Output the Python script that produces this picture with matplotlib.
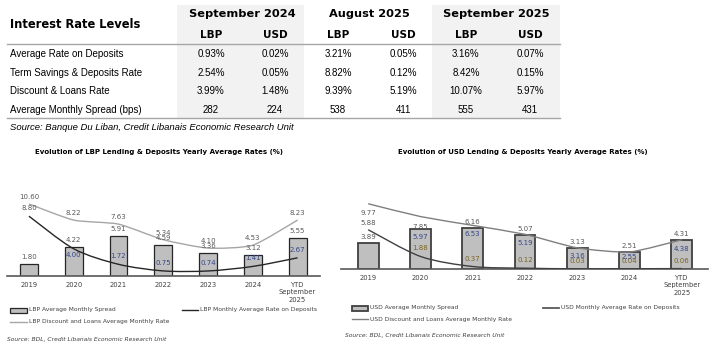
import numpy as np
import matplotlib
matplotlib.use("Agg")
import matplotlib.pyplot as plt
from matplotlib.path import Path
from matplotlib.patches import PathPatch, Rectangle
from matplotlib.lines import Line2D

# ---- table data ----
row_labels = ["Average Rate on Deposits", "Term Savings & Deposits Rate",
              "Discount & Loans Rate", "Average Monthly Spread (bps)"]
periods = ["September 2024", "August 2025", "September 2025"]
currencies = ["LBP", "USD"]
table_values = [
    ["0.93%", "0.02%", "3.21%", "0.05%", "3.16%", "0.07%"],
    ["2.54%", "0.05%", "8.82%", "0.12%", "8.42%", "0.15%"],
    ["3.99%", "1.48%", "9.39%", "5.19%", "10.07%", "5.97%"],
    ["282", "224", "538", "411", "555", "431"],
]

# ---- chart data ----
years = ["2019", "2020", "2021", "2022", "2023", "2024", "YTD\nSeptember\n2025"]
lbp_spread = [1.80, 4.22, 5.91, 4.59, 3.36, 3.12, 5.55]
lbp_deposits = [8.80, 4.00, 1.72, 0.75, 0.74, 1.41, 2.67]
lbp_loans = [10.60, 8.22, 7.63, 5.34, 4.10, 4.53, 8.23]
usd_spread = [3.89, 5.97, 6.16, 5.07, 3.13, 2.51, 4.31]
usd_deposits = [5.88, 1.88, 0.37, 0.12, 0.03, 0.04, 0.06]
usd_loans = [9.77, 7.85, 6.53, 5.19, 3.16, 2.55, 4.38]

W, H = 717, 353
fig = plt.figure(figsize=(W / 100, H / 100), dpi=100)

# overlay axes in pixel units for the table, legends and notes
ov = fig.add_axes([0, 0, 1, 1])
ov.set_xlim(0, W)
ov.set_ylim(H, 0)
ov.axis("off")

grey_fill = "#F2F2F2"
rule = "#A6A6A6"
ov.add_patch(Rectangle((177, 5), 127, 113, color=grey_fill, lw=0, zorder=0))
ov.add_patch(Rectangle((432, 5), 128, 113, color=grey_fill, lw=0, zorder=0))
ov.plot([7, 560], [44, 44], color=rule, lw=1)
ov.plot([7, 560], [118, 118], color=rule, lw=1)

ov.text(10, 24, "Interest Rate Levels", fontsize=8.3, fontweight="bold",
        family="DejaVu Sans", va="center", ha="left")
group_x = [242, 369, 496]
for p, gx in zip(periods, group_x):
    ov.text(gx, 14, p, fontsize=8.2, fontweight="bold", family="DejaVu Sans",
            ha="center", va="center")
col_x = [211, 275, 338, 403, 466, 530]
for i, cx in enumerate(col_x):
    ov.text(cx, 35, currencies[i % 2], fontsize=7.5, fontweight="bold",
            family="DejaVu Sans", ha="center", va="center")

row_y = [54, 73, 91, 110]
for lab, ry, vals in zip(row_labels, row_y, table_values):
    ov.text(10, ry, lab, fontsize=7, family="Liberation Sans", va="center")
    for cx, v in zip(col_x, vals):
        ov.text(cx, ry, v, fontsize=7, family="Liberation Sans",
                ha="center", va="center")

ov.text(10, 128, "Source: Banque Du Liban, Credit Libanais Economic Research Unit",
        fontsize=6.8, style="italic", family="Liberation Sans", va="center")


def smooth(xs, ys, k=8):
    pts = np.column_stack([xs, ys]).astype(float)
    n = len(pts)
    verts = [pts[0]]
    codes = [Path.MOVETO]
    for i in range(n - 1):
        p0 = pts[i - 1] if i > 0 else pts[i]
        p1, p2 = pts[i], pts[i + 1]
        p3 = pts[i + 2] if i + 2 < n else pts[i + 1]
        verts += [p1 + (p2 - p0) / k, p2 - (p3 - p1) / k, p2]
        codes += [Path.CURVE4] * 3
    return Path(verts, codes)


def label(ax, xs, vals, offs, colors):
    for x, v, dy, c in zip(xs, vals, offs, colors):
        ax.annotate(f"{v:.2f}", (x, v), xytext=(0, dy), textcoords="offset pixels",
                    ha="center", va="center", fontsize=5, color=c,
                    annotation_clip=False, zorder=6)


def chart(px_left, px_right, base_px, top_px, x0, ppu, spread, deps, loans,
          bar_edge, bar_lw, dep_col, loan_col, title, title_x):
    ax = fig.add_axes([px_left / W, (H - base_px) / H, (px_right - px_left) / W,
                       (base_px - top_px) / H])
    ax.patch.set_alpha(0)
    xs = np.arange(len(years))
    ax.set_xlim(x0, 6.5)
    ax.set_ylim(0, (base_px - top_px) / ppu)
    ax.bar(xs, spread, width=0.4, color="#BFBFBF", edgecolor=bar_edge,
           linewidth=bar_lw, zorder=2)
    ax.add_patch(PathPatch(smooth(xs, loans, 10), fill=False, edgecolor=loan_col,
                           lw=1.0, zorder=3))
    ax.add_patch(PathPatch(smooth(xs, deps, 7), fill=False, edgecolor=dep_col,
                           lw=1.0, zorder=4))
    for s in ["top", "left", "right"]:
        ax.spines[s].set_visible(False)
    ax.spines["bottom"].set_color("#595959")
    ax.spines["bottom"].set_linewidth(1.2)
    ax.set_yticks([])
    ax.set_xticks(xs)
    ax.set_xticklabels(years, fontsize=4.9, color="#404040", linespacing=1.3)
    ax.tick_params(axis="x", length=0, pad=4)
    fig.text(title_x / W, 1 - 152 / H, title, fontsize=5.0, fontweight="bold",
             ha="left", va="center")
    return ax, xs


grey_lab = "#595959"
navy_lab = "#34468A"
brown_lab = "#7A6420"

# LBP chart
ax1, xs = chart(7, 320, 276, 165, -0.49, 6.8, lbp_spread, lbp_deposits, lbp_loans,
                "#262626", 0.9, "#262626", "#A6A6A6",
                "Evolution of LBP Lending & Deposits Yearly Average Rates (%)", 35)
label(ax1, xs, lbp_loans, [7] * 7, [grey_lab] * 7)
label(ax1, xs, lbp_spread, [7] * 7, [grey_lab] * 7)
label(ax1, xs, lbp_deposits, [8, -6, 8, 8, 8, 8, 8], [grey_lab] + [navy_lab] * 6)

# USD chart
ax2, xs = chart(341, 708, 269, 165, -0.52, 6.68, usd_spread, usd_deposits, usd_loans,
                "#404040", 1.3, "#404040", "#7F7F7F",
                "Evolution of USD Lending & Deposits Yearly Average Rates (%)", 398)
label(ax2, xs, usd_loans, [-9, -10, -9, -9, -8, -5, -9],
      [grey_lab, grey_lab] + [navy_lab] * 5)
label(ax2, xs, usd_spread, [6, -8, 6, 6, 6, 6, 6], [grey_lab, navy_lab] + [grey_lab] * 5)
label(ax2, xs, usd_deposits, [7, 8, 8, 8, 8, 8, 8], [grey_lab] + [brown_lab] * 6)

# legends and sources
leg_fs = 4.35
ov.add_patch(Rectangle((10, 308), 17, 4.5, facecolor="#BFBFBF", edgecolor="#262626", lw=0.9))
ov.text(29, 310, "LBP Average Monthly Spread", fontsize=leg_fs, va="center", color="#404040")
ov.add_line(Line2D([182, 198], [310, 310], color="#262626", lw=1))
ov.text(200, 310, "LBP Monthly Average Rate on Deposits", fontsize=leg_fs, va="center", color="#404040")
ov.add_line(Line2D([10, 27], [322, 322], color="#A6A6A6", lw=1))
ov.text(29, 322, "LBP Discount and Loans Average Monthly Rate", fontsize=leg_fs, va="center", color="#404040")
ov.text(7, 339, "Source: BDL, Credit Libanais Economic Research Unit", fontsize=leg_fs,
        style="italic", va="center", color="#404040")

ov.add_patch(Rectangle((352, 306), 16, 4.5, facecolor="#BFBFBF", edgecolor="#404040", lw=1.3))
ov.text(370, 308, "USD Average Monthly Spread", fontsize=leg_fs, va="center", color="#404040")
ov.add_line(Line2D([543, 559], [308, 308], color="#595959", lw=1.3))
ov.text(561, 308, "USD Monthly Average Rate on Deposits", fontsize=leg_fs, va="center", color="#404040")
ov.add_line(Line2D([352, 368], [319, 319], color="#7F7F7F", lw=1))
ov.text(370, 319, "USD Discount and Loans Average Monthly Rate", fontsize=leg_fs, va="center", color="#404040")
ov.text(345, 336, "Source: BDL, Credit Libanais Economic Research Unit", fontsize=leg_fs,
        style="italic", va="center", color="#404040")

fig.savefig("out.png", dpi=100)
